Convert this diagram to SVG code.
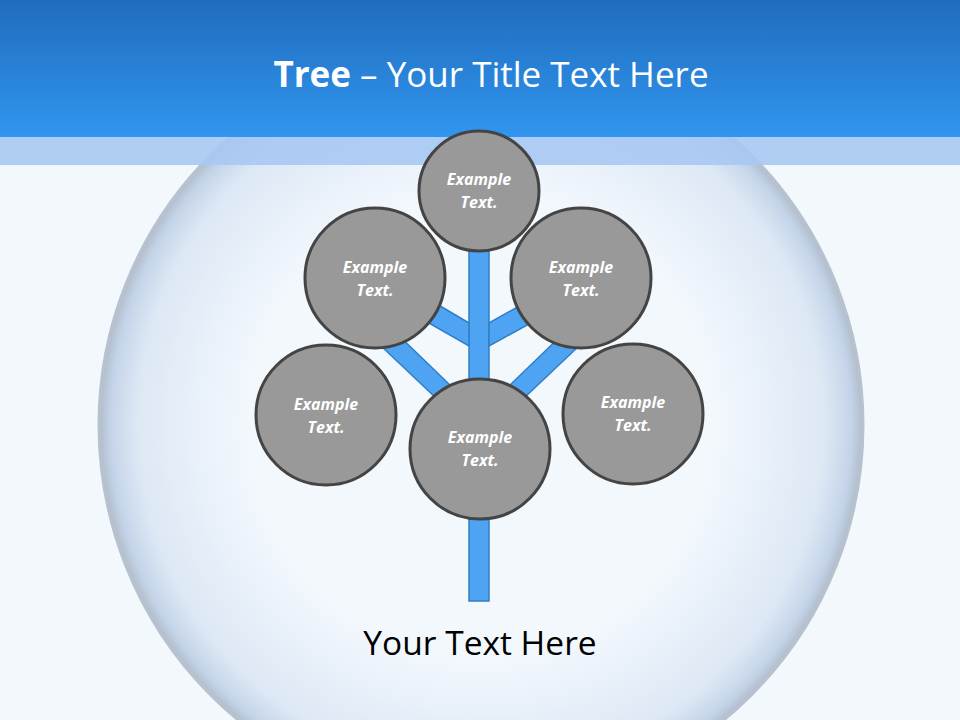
<svg xmlns="http://www.w3.org/2000/svg" width="960" height="720" viewBox="0 0 960 720">
<defs>
<linearGradient id="hdr" x1="0" y1="0" x2="0" y2="1"><stop offset="0" stop-color="#1f6cbd"/><stop offset="1" stop-color="#3196ef"/></linearGradient>
<radialGradient id="bub" cx="0.5" cy="0.5" r="0.5"><stop offset="0.6" stop-color="#f3f8fd"/><stop offset="0.9" stop-color="#dde8f5"/><stop offset="0.97" stop-color="#c4d4e8"/><stop offset="1" stop-color="#b0bccb"/></radialGradient>
<style>
.n{fill:#999;stroke:#444;stroke-width:3}
.t{font-family:"Open Sans","Liberation Sans",sans-serif;font-weight:bold;font-style:italic;font-size:16px;fill:#fff;text-anchor:middle}
.b{fill:#4ea4f2;stroke:#2f7fc8;stroke-width:1.5}
</style>
</defs>
<rect width="960" height="720" fill="#f3f8fd"/>
<circle cx="481" cy="425" r="382" fill="url(#bub)" stroke="#b8c2cf" stroke-width="3"/>
<rect y="137" width="960" height="28" fill="#a9c8f3" opacity="0.9"/>
<rect width="960" height="137" fill="url(#hdr)"/>
<text x="491" y="87" text-anchor="middle" font-family="Open Sans,Liberation Sans,sans-serif" font-size="35" fill="#fff"><tspan font-weight="bold">Tree</tspan> – Your Title Text Here</text>
<g id="connectors">
<rect class="b" x="469" y="245" width="20" height="356"/>
<polygon class="b" points="430,300 469,323 469,346 420,318"/>
<polygon class="b" points="530,300 489,323 489,346 540,318"/>
<polygon class="b" points="393,330 450,385 438,400 380,345"/>
<polygon class="b" points="567,330 510,385 522,400 580,345"/>
</g>
<g id="n1"><circle class="n" cx="479" cy="191" r="60"/><text class="t" x="479" y="185">Example</text><text class="t" x="479" y="208">Text.</text></g>
<g id="n2"><circle class="n" cx="375" cy="278" r="70"/><text class="t" x="375" y="273">Example</text><text class="t" x="375" y="296">Text.</text></g>
<g id="n3"><circle class="n" cx="581" cy="278" r="70"/><text class="t" x="581" y="273">Example</text><text class="t" x="581" y="296">Text.</text></g>
<g id="n4"><circle class="n" cx="326" cy="415" r="70"/><text class="t" x="326" y="410">Example</text><text class="t" x="326" y="433">Text.</text></g>
<g id="n5"><circle class="n" cx="480" cy="449" r="70"/><text class="t" x="480" y="443">Example</text><text class="t" x="480" y="466">Text.</text></g>
<g id="n6"><circle class="n" cx="633" cy="414" r="70"/><text class="t" x="633" y="408">Example</text><text class="t" x="633" y="431">Text.</text></g>
<text x="480" y="655" text-anchor="middle" font-family="Open Sans,Liberation Sans,sans-serif" font-size="33.5" fill="#000">Your Text Here</text>
</svg>
